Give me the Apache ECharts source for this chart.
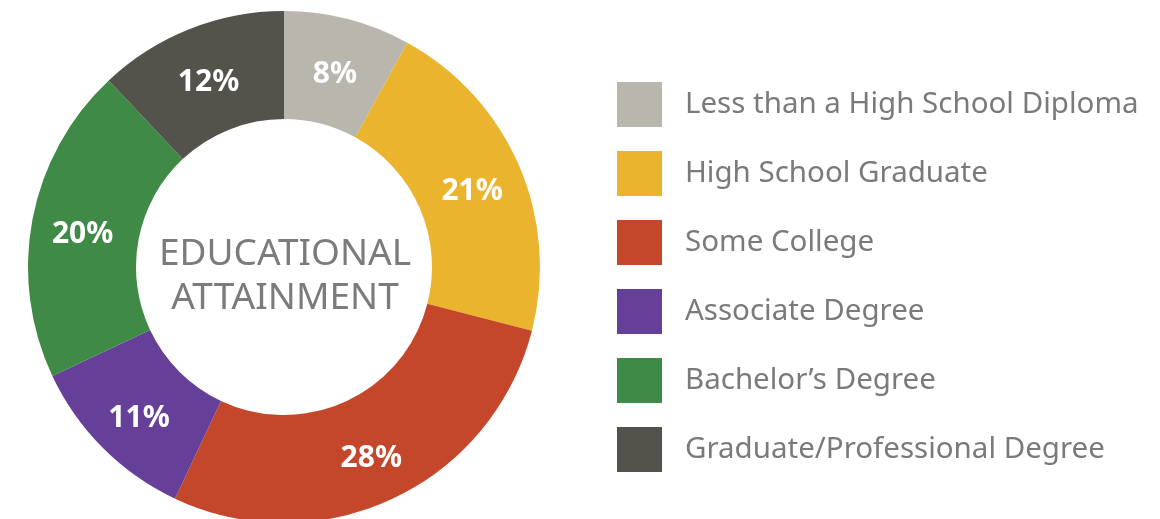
<!DOCTYPE html>
<html>
<head>
<meta charset="utf-8">
<script src="https://cdn.jsdelivr.net/npm/echarts@6/dist/echarts.min.js"></script>
<style>
  html, body { margin: 0; padding: 0; background: #fff; }
  #chart { width: 1160px; height: 519px; }
</style>
</head>
<body>
<div id="chart"></div>
<script>
// categories and shares (percent)
const categories = [
  'Less than a High School Diploma',
  'High School Graduate',
  'Some College',
  'Associate Degree',
  'Bachelor\u2019s Degree',
  'Graduate/Professional Degree'
]
const shares = [8, 21, 28, 11, 20, 12]
const colors = ['#b9b6ad', '#ebb42f', '#c5472b', '#663f98', '#3f8a46', '#53524b']
const centerLines = ['EDUCATIONAL', 'ATTAINMENT']

const chart = echarts.init(document.getElementById('chart'))

const option = {
  animation: false,
  color: colors,
  legend: {
    orient: 'vertical',
    left: 612,
    top: 77,
    itemWidth: 45,
    itemHeight: 45,
    itemGap: 24,
    icon: 'rect',
    selectedMode: false,
    data: categories,
    textStyle: {
      fontFamily: 'Noto Sans',
      fontSize: 29.5,
      color: '#7a7a7a',
      padding: [0, 0, 0, 18]
    }
  },
  graphic: [{
    type: 'text',
    x: 285,
    y: 232,
    style: {
      text: centerLines.join('\n'),
      align: 'center',
      fontFamily: 'Noto Sans',
      fontSize: 37,
      lineHeight: 44,
      fill: '#7b7b7b'
    }
  }],
  series: [{
    type: 'pie',
    center: [284, 267],
    radius: [148, 256],
    startAngle: 90,
    clockwise: true,
    silent: true,
    label: {
      show: true,
      position: 'inside',
      formatter: '{p|{c}%}',
      rich: {
        p: {
          color: '#ffffff',
          fontFamily: 'Noto Sans',
          fontWeight: 'bold',
          fontSize: 30,
          padding: [12, 0, 0, 0]
        }
      }
    },
    labelLine: { show: false },
    data: categories.map((name, i) => ({ name: name, value: shares[i] }))
  }]
}

chart.setOption(option)
</script>
</body>
</html>
